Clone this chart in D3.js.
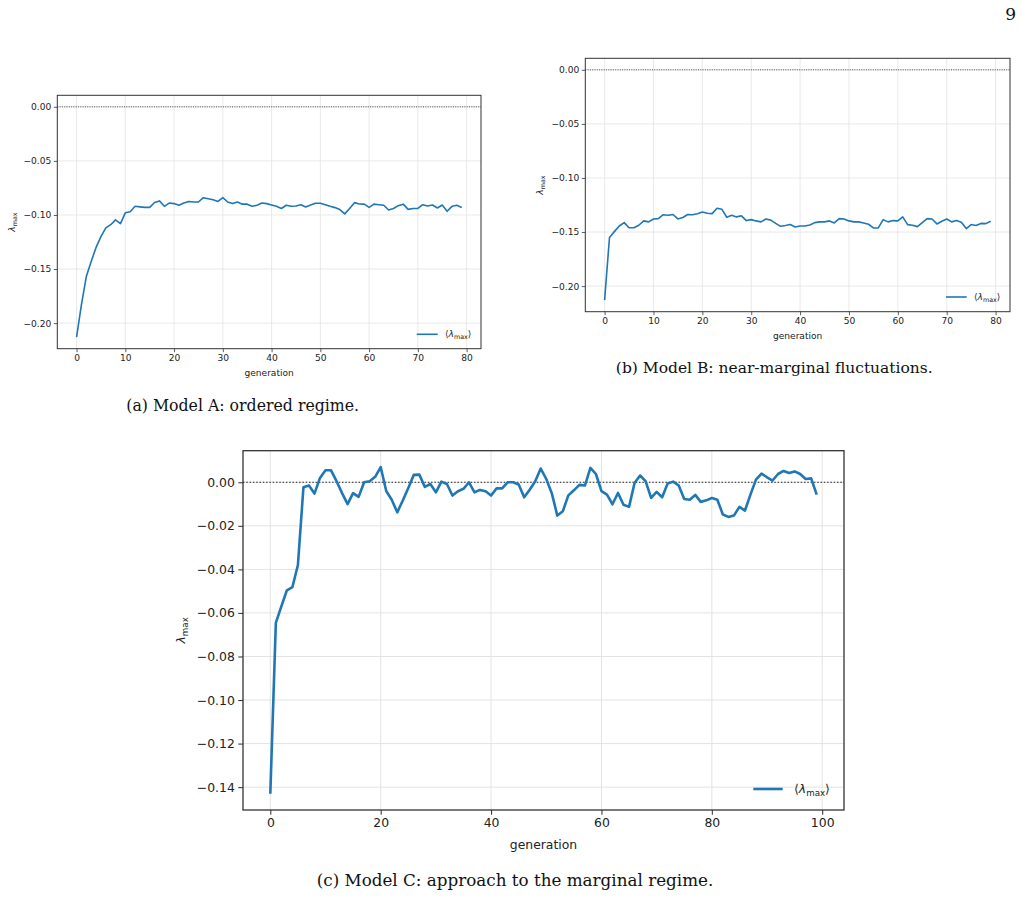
<!DOCTYPE html>
<html>
<head>
<meta charset="utf-8">
<script src="https://cdn.jsdelivr.net/npm/d3@7"></script>
<style>
  html, body { margin: 0; padding: 0; background: #fff; }
  svg { display: block; }
</style>
</head>
<body>
<svg id="fig" width="1022" height="898"></svg>
<script>
// ---------------- DATA ----------------
const seriesA = [
  -0.213, -0.183, -0.157, -0.143, -0.130, -0.120, -0.112, -0.109, -0.1045, -0.108,
  -0.098, -0.097, -0.092, -0.0925, -0.093, -0.093, -0.0885, -0.087, -0.092, -0.089,
  -0.0895, -0.091, -0.089, -0.0875, -0.088, -0.088, -0.084, -0.085, -0.086, -0.0875,
  -0.084, -0.088, -0.0895, -0.088, -0.090, -0.090, -0.092, -0.091, -0.089, -0.0895,
  -0.0908, -0.092, -0.094, -0.091, -0.092, -0.0917, -0.0905, -0.0926, -0.0908, -0.0892,
  -0.0892, -0.0905, -0.092, -0.0932, -0.095, -0.099, -0.094, -0.0886, -0.0898, -0.090,
  -0.093, -0.090, -0.0905, -0.091, -0.0954, -0.094, -0.0914, -0.090, -0.0948, -0.094,
  -0.094, -0.0905, -0.0917, -0.0908, -0.0935, -0.0908, -0.0966, -0.092, -0.091, -0.093
];
const seriesB = [
  -0.213, -0.155, -0.1496, -0.1444, -0.1413, -0.146, -0.146, -0.1437, -0.1397, -0.1406,
  -0.138, -0.1376, -0.134, -0.1345, -0.1338, -0.1379, -0.1366, -0.1338, -0.134, -0.133,
  -0.1314, -0.1326, -0.133, -0.128, -0.129, -0.1363, -0.1345, -0.136, -0.135, -0.1394,
  -0.1385, -0.1397, -0.1406, -0.138, -0.139, -0.142, -0.1447, -0.144, -0.1431, -0.1453,
  -0.1444, -0.1444, -0.1434, -0.1413, -0.1406, -0.1406, -0.1397, -0.1416, -0.1376, -0.1379,
  -0.1397, -0.1406, -0.1406, -0.1416, -0.1428, -0.1462, -0.1462, -0.1385, -0.1406, -0.1394,
  -0.1397, -0.136, -0.1431, -0.1437, -0.145, -0.1413, -0.1376, -0.1379, -0.1425, -0.140,
  -0.1379, -0.1406, -0.1394, -0.141, -0.1468, -0.1431, -0.144, -0.142, -0.1422, -0.140
];
const seriesC = [
  -0.143, -0.0646, -0.057, -0.0496, -0.0482, -0.038, -0.0023, -0.0015, -0.0052, 0.002,
  0.0055, 0.0055, 0.0005, -0.005, -0.010, -0.005, -0.0067, 0.000, 0.0005, 0.0025,
  0.007, -0.004, -0.008, -0.0138, -0.0084, -0.0026, 0.0034, 0.0035, -0.0021, -0.0008,
  -0.0046, 0.0003, -0.0008, -0.0061, -0.0041, -0.003, 0.000, -0.0046, -0.0035, -0.0041,
  -0.0061, -0.0028, -0.0028, 0.000, 0.000, -0.001, -0.0069, -0.0034, 0.0005, 0.0063,
  0.0015, -0.005, -0.0153, -0.0133, -0.006, -0.0037, -0.0012, -0.0015, 0.0066, 0.0038,
  -0.0041, -0.0057, -0.0101, -0.0049, -0.0103, -0.0113, -0.0003, 0.0031, 0.0005, -0.0072,
  -0.0044, -0.0069, -0.0006, 0.0003, -0.0015, -0.0077, -0.008, -0.0058, -0.009, -0.0083,
  -0.0072, -0.008, -0.0148, -0.0159, -0.0153, -0.0113, -0.013, -0.0057, 0.0012, 0.004,
  0.0023, 0.0008, 0.0038, 0.0052, 0.0043, 0.005, 0.0038, 0.0015, 0.0018, -0.0057
];
const xTicksAB = [0, 10, 20, 30, 40, 50, 60, 70, 80];
const yTicksAB = [0, -0.05, -0.10, -0.15, -0.20];
const xTicksC = [0, 20, 40, 60, 80, 100];
const yTicksC = [0, -0.02, -0.04, -0.06, -0.08, -0.10, -0.12, -0.14];
const captions = [
  "(a) Model A: ordered regime.",
  "(b) Model B: near-marginal fluctuations.",
  "(c) Model C: approach to the marginal regime."
];
const xLabel = "generation";
const pageNumber = "9";

// ---------------- DRAW ----------------
const svg = d3.select("#fig");
const LINE = "#1f77b4";
const SANS = "'DejaVu Sans', sans-serif";
const SERIF = "'DejaVu Serif', serif";

function addLambda(sel, fs) {
  sel.append("tspan").attr("font-style", "italic").text("λ");
  sel.append("tspan").attr("font-size", fs * 0.7).attr("dy", fs * 0.22).text("max");
}

function panel(cfg) {
  const { data, box, xTicks, yTicks, fs, lw, tickLen, spineW, grid } = cfg;
  const n = data.length;
  const xm = (n - 1) * 0.05;
  const lo = Math.min(0, d3.min(data)), hi = Math.max(0, d3.max(data));
  const ym = (hi - lo) * 0.05;
  const x = d3.scaleLinear().domain([-xm, n - 1 + xm]).range([box.l, box.r]);
  const y = d3.scaleLinear().domain([lo - ym, hi + ym]).range([box.b, box.t]);
  const g = svg.append("g");

  // grid
  g.append("g").selectAll("line").data(xTicks).join("line")
    .attr("x1", d => x(d)).attr("x2", d => x(d))
    .attr("y1", box.t).attr("y2", box.b)
    .attr("stroke", "#e3e3e3").attr("stroke-width", grid);
  g.append("g").selectAll("line").data(yTicks).join("line")
    .attr("x1", box.l).attr("x2", box.r)
    .attr("y1", d => y(d)).attr("y2", d => y(d))
    .attr("stroke", "#e3e3e3").attr("stroke-width", grid);

  // zero dotted line
  g.append("line")
    .attr("x1", box.l).attr("x2", box.r).attr("y1", y(0)).attr("y2", y(0))
    .attr("stroke", "#222").attr("stroke-width", cfg.dotW)
    .attr("stroke-dasharray", cfg.dash);

  // data line
  const line = d3.line().x((d, i) => x(i)).y(d => y(d));
  g.append("path").datum(data).attr("d", line)
    .attr("fill", "none").attr("stroke", LINE).attr("stroke-width", lw)
    .attr("stroke-linejoin", "round").attr("stroke-linecap", "butt");

  // axes
  const xa = g.append("g").attr("transform", `translate(0,${box.b})`)
    .call(d3.axisBottom(x).tickValues(xTicks).tickFormat(d3.format("d"))
      .tickSizeOuter(0).tickSize(tickLen).tickPadding(cfg.pad));
  const ya = g.append("g").attr("transform", `translate(${box.l},0)`)
    .call(d3.axisLeft(y).tickValues(yTicks).tickFormat(d3.format(".2f"))
      .tickSizeOuter(0).tickSize(tickLen).tickPadding(cfg.pad));
  [xa, ya].forEach(a => {
    a.select(".domain").remove();
    a.selectAll("line").attr("stroke", "#333").attr("stroke-width", spineW * 0.8);
    a.selectAll("text").attr("font-family", SANS).attr("font-size", fs).attr("fill", "#222");
  });

  // spines
  g.append("rect").attr("x", box.l).attr("y", box.t)
    .attr("width", box.r - box.l).attr("height", box.b - box.t)
    .attr("fill", "none").attr("stroke", "#333").attr("stroke-width", spineW);

  // labels
  g.append("text").attr("x", (box.l + box.r) / 2).attr("y", cfg.xlabY)
    .attr("text-anchor", "middle").attr("font-family", SANS).attr("font-size", fs)
    .attr("fill", "#222").text(xLabel);
  const yl = g.append("text")
    .attr("transform", `translate(${cfg.ylabX},${(box.t + box.b) / 2}) rotate(-90)`)
    .attr("text-anchor", "middle").attr("font-family", SANS).attr("font-size", fs)
    .attr("fill", "#222");
  addLambda(yl, fs);

  // legend
  const ly = box.b - cfg.leg.dy;
  g.append("line").attr("x1", box.r - cfg.leg.l1).attr("x2", box.r - cfg.leg.l2)
    .attr("y1", ly).attr("y2", ly).attr("stroke", LINE).attr("stroke-width", lw);
  const lt = g.append("text").attr("x", box.r - cfg.leg.t).attr("y", ly + fs * 0.35)
    .attr("font-family", SANS).attr("font-size", fs).attr("fill", "#222");
  lt.append("tspan").text("⟨");
  addLambda(lt, fs);
  lt.append("tspan").attr("dy", -fs * 0.22).text("⟩");
}

panel({
  data: seriesA, box: { l: 57.3, r: 481, t: 95.3, b: 348.7 },
  xTicks: xTicksAB, yTicks: yTicksAB, fs: 9.1, lw: 1.6, tickLen: 3.5, spineW: 1.0,
  grid: 0.8, dotW: 0.8, dash: "1,1.3", pad: 2.5, xlabY: 376, ylabX: 15,
  leg: { dy: 14.4, l1: 64.3, l2: 43.3, t: 36 }
});
panel({
  data: seriesB, box: { l: 585.3, r: 1010, t: 58.3, b: 311.7 },
  xTicks: xTicksAB, yTicks: yTicksAB, fs: 9.1, lw: 1.6, tickLen: 3.5, spineW: 1.0,
  grid: 0.8, dotW: 0.8, dash: "1,1.3", pad: 2.5, xlabY: 339, ylabX: 543,
  leg: { dy: 14.7, l1: 64, l2: 43.3, t: 36 }
});
panel({
  data: seriesC, box: { l: 243, r: 844, t: 450.7, b: 810 },
  xTicks: xTicksC, yTicks: yTicksC, fs: 12.4, lw: 2.6, tickLen: 4.7, spineW: 1.3,
  grid: 1.0, dotW: 1.1, dash: "1.5,1.8", pad: 3.5, xlabY: 848.5, ylabX: 185,
  leg: { dy: 21, l1: 90.7, l2: 61.3, t: 50 }
});

// captions
const capSpec = [
  { cx: 242.7, y: 410.7, w: 233 },
  { cx: 774.3, y: 372.7, w: 317 },
  { cx: 515, y: 885.7, w: 397 }
];
captions.forEach((c, i) => {
  const s = capSpec[i];
  const t = svg.append("text").attr("x", s.cx).attr("y", s.y).attr("text-anchor", "middle")
    .attr("font-family", SERIF).attr("font-size", 16).attr("fill", "#111").text(c);
  const w = t.node().getComputedTextLength();
  t.attr("font-size", 16 * s.w / w);
});

svg.append("text").attr("x", 1010.7).attr("y", 20).attr("text-anchor", "middle")
  .attr("font-family", SERIF).attr("font-size", 17).attr("fill", "#111").text(pageNumber);
</script>
</body>
</html>
